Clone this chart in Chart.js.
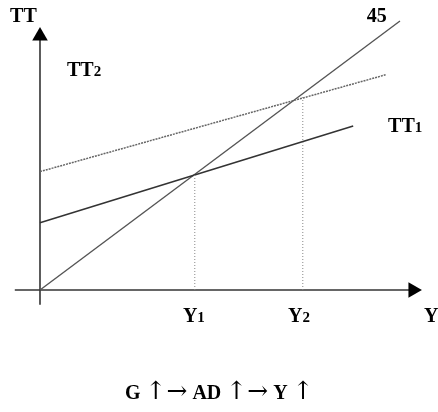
<!DOCTYPE html>
<html>
<head>
<meta charset="utf-8">
<script src="https://cdn.jsdelivr.net/npm/chart.js@4.4.1/dist/chart.umd.min.js"></script>
<style>
  body { margin: 0; background: #fff; }
  canvas { display: block; }
</style>
</head>
<body>
<canvas id="keynesChart" width="438" height="412"></canvas>
<script>
// Keynesian cross: TT (total spending) vs Y (income), units chosen so the 45 line is y = x
const line45 = [{x: 0, y: 0}, {x: 100, y: 100}];
const tt1 = [{x: 0, y: 25}, {x: 87, y: 61}];
const tt2 = [{x: 0, y: 44}, {x: 96, y: 80}];
const y1Guide = [{x: 43, y: 0}, {x: 43, y: 43}];
const y2Guide = [{x: 73, y: 0}, {x: 73, y: 72}];
const xAxis = [{x: -7, y: 0}, {x: 103.6, y: 0}];
const yAxis = [{x: 0, y: -5.5}, {x: 0, y: 94.4}];

// text labels: [main, subscript, x, y]
const labels = [
    ['TT', '', -8.3, 99.6],
    ['TT', '2', 7.5, 79.6],
    ['45', '', 90.8, 99.6],
    ['TT', '1', 96.7, 58.7],
    ['Y', '1', 39.7, -11.9],
    ['Y', '2', 68.9, -11.9],
    ['Y', '', 106.7, -11.9]
];
// bottom caption, centred at capX/capY; arrows drawn in a font with bigger arrows
const caption = ['G', ' ', '\u2191', '\u2192', ' ', 'AD', ' ', '\u2191', '\u2192', ' ', 'Y', ' ', '\u2191'];
const capX = 49.8, capY = -40.5;

const serif = 'bold 20px "Liberation Serif", "Times New Roman", serif';
const arrowFont = '25px "DejaVu Serif", serif';

const labelPlugin = {
    id: 'labelPlugin',
    afterDatasetsDraw(chart) {
        const ctx = chart.ctx;
        const xs = chart.scales.x, ys = chart.scales.y;
        ctx.save();
        ctx.fillStyle = '#000';
        ctx.textBaseline = 'alphabetic';
        ctx.textAlign = 'left';
        labels.forEach(([main, sub, x, y]) => {
            let px = xs.getPixelForValue(x);
            const py = ys.getPixelForValue(y);
            ctx.font = serif;
            ctx.fillText(main, px, py);
            if (sub) {
                px += ctx.measureText(main).width;
                ctx.font = 'bold 15px "Liberation Serif", "Times New Roman", serif';
                ctx.fillText(sub, px, py);
            }
        });
        // caption
        const fontFor = s => /[\u2190-\u21ff]/.test(s) ? arrowFont : serif;
        let total = 0;
        caption.forEach(s => { ctx.font = fontFor(s); total += ctx.measureText(s).width; });
        let px = xs.getPixelForValue(capX) - total / 2;
        const py = ys.getPixelForValue(capY);
        caption.forEach(s => {
            ctx.font = fontFor(s);
            ctx.fillText(s, px, py);
            px += ctx.measureText(s).width;
        });
        ctx.restore();
    }
};

const ctx = document.getElementById('keynesChart').getContext('2d');
new Chart(ctx, {
    type: 'line',
    data: {
        datasets: [
            { data: y1Guide, borderColor: '#888', borderWidth: 1, borderDash: [1, 2], pointRadius: 0 },
            { data: y2Guide, borderColor: '#888', borderWidth: 1, borderDash: [1, 2], pointRadius: 0 },
            { data: tt2, borderColor: '#666', borderWidth: 1.5, borderDash: [2, 1], pointRadius: 0 },
            { data: tt1, borderColor: '#333', borderWidth: 1.6, pointRadius: 0 },
            { data: line45, borderColor: '#555', borderWidth: 1.4, pointRadius: 0 },
            { data: xAxis, borderColor: '#333', borderWidth: 1.6, pointRadius: [0, 9],
              pointStyle: 'triangle', pointRotation: 90, pointBackgroundColor: '#000', pointBorderWidth: 0 },
            { data: yAxis, borderColor: '#333', borderWidth: 1.6, pointRadius: [0, 9],
              pointStyle: 'triangle', pointRotation: 0, pointBackgroundColor: '#000', pointBorderWidth: 0 }
        ]
    },
    options: {
        responsive: false,
        animation: false,
        clip: false,
        layout: { padding: 0, autoPadding: false },
        scales: {
            x: { type: 'linear', min: -11.11, max: 110.56, display: false },
            y: { type: 'linear', min: -45.35, max: 107.8, display: false }
        },
        plugins: {
            legend: { display: false },
            tooltip: { enabled: false }
        }
    },
    plugins: [labelPlugin]
});
</script>
</body>
</html>
